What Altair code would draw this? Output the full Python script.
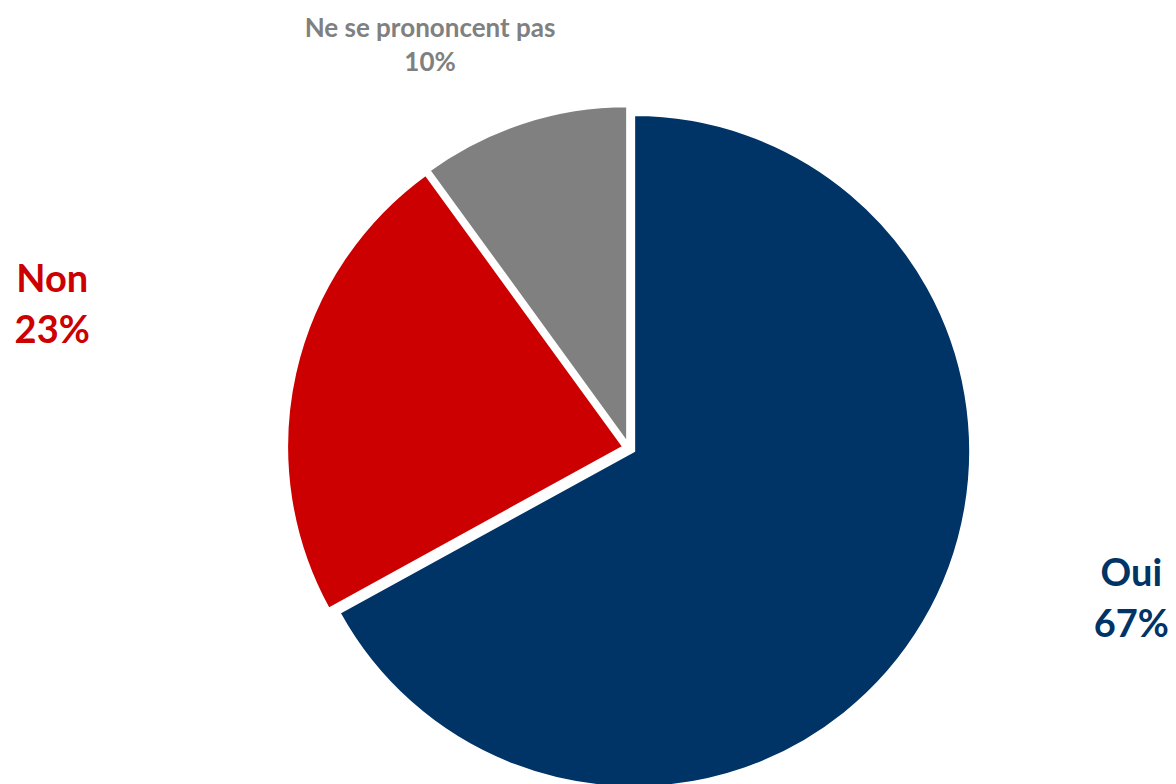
import math
import altair as alt
import pandas as pd

categories = ["Oui", "Non", "Ne se prononcent pas"]
values = [67, 23, 10]
colors = ["#003366", "#CC0000", "#808080"]
order = [1, 2, 3]

df = pd.DataFrame({"cat": categories, "val": values, "ord": order})
df["label"] = [f"{c}\n{v}%" for c, v in zip(categories, values)]
df["pct"] = [f"{v}%" for v in values]

CX, CY = 621, 440
R = 336
EXPLODE = 6

base = alt.Chart(df).encode(
    theta=alt.Theta("val:Q", stack=True),
    order=alt.Order("ord:Q"),
)

# exploded slices: one layer per slice, offset along its mid angle
total = sum(values)
layers = []
cum = 0
for cat, val, col in zip(categories, values, colors):
    mid = 2 * math.pi * (cum + val / 2) / total
    cum += val
    ox = EXPLODE * math.sin(mid)
    oy = -EXPLODE * math.cos(mid)
    layers.append(
        base.mark_arc(outerRadius=R, strokeWidth=2, stroke="white").encode(
            fill=alt.condition(f"datum.cat == '{cat}'", alt.value(col), alt.value("transparent")),
            strokeOpacity=alt.condition(f"datum.cat == '{cat}'", alt.value(1), alt.value(0)),
            x=alt.value(CX + ox), y=alt.value(CY + oy),
        )
    )

def label_layer(cat, field, color, radius, dx, dy, size, lh):
    return base.transform_calculate(
        txt=f"datum.cat == '{cat}' ? datum.{field} : ''"
    ).mark_text(
        radius=radius, dx=dx, dy=dy, fontSize=size, fontWeight="bold",
        font="Lato", color=color, align="center", baseline="middle",
        lineBreak="\n", lineHeight=lh,
    ).encode(text="txt:N", x=alt.value(CX), y=alt.value(CY))

chart = alt.layer(
    *layers,
    label_layer("Oui", "label", "#003366", 500, 72, -128, 38, 51),
    label_layer("Non", "label", "#CC0000", 590, -1, -38, 38, 51),
    label_layer("Ne se prononcent pas", "cat", "#808080", 440, -63, -1, 26, 30),
    label_layer("Ne se prononcent pas", "pct", "#808080", 440, -63, 33, 26, 30),
).properties(
    width=1160, height=776,
    autosize=alt.AutoSizeParams(type="none"),
    padding=0,
).configure_view(stroke=None)

chart.save("out.html", embed_options={"renderer": "svg", "actions": False})
